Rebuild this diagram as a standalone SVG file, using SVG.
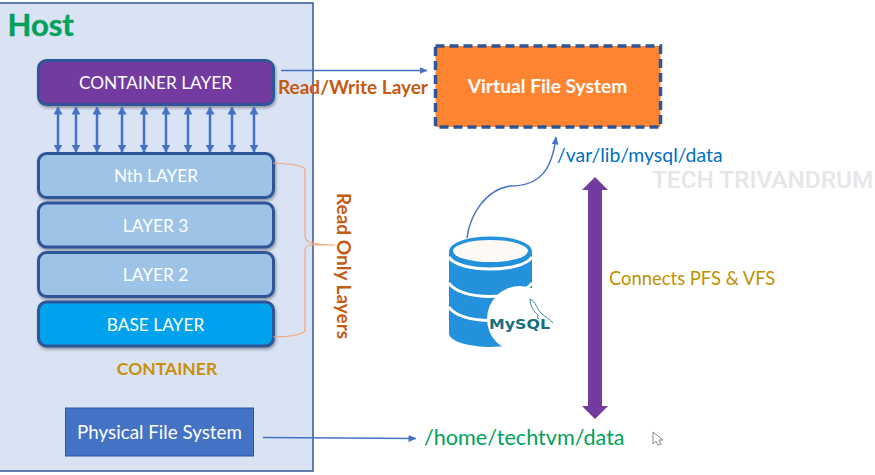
<svg xmlns="http://www.w3.org/2000/svg" width="875" height="475" viewBox="0 0 875 475">
<style>
text{font-family:Lato,"Open Sans",sans-serif}
.layer{stroke:#2f5597;stroke-width:3;filter:url(#sh)}
.lt{fill:#fff;font-size:17.300px;text-anchor:middle}
.thin{fill:none;stroke:#4472c4;stroke-width:1.500}
.dbl{stroke:#4472c4;stroke-width:2.500;marker-start:url(#ab);marker-end:url(#ae)}
.brace{fill:none;stroke:#f4a77c;stroke-width:1.200}
</style>
<defs>
<filter id="sh" x="-5%" y="-10%" width="110%" height="130%"><feDropShadow dx="1" dy="2" stdDeviation="1.500" flood-color="#000" flood-opacity=".35"/></filter>
<marker id="ae" markerWidth="8" markerHeight="9" refX="7.500" refY="4.500" orient="auto" markerUnits="userSpaceOnUse" viewBox="0 0 8 9"><path d="M0 0L8 4.500L0 9z" fill="#4472c4"/></marker>
<marker id="ab" markerWidth="8" markerHeight="9" refX=".5" refY="4.500" orient="auto" markerUnits="userSpaceOnUse" viewBox="0 0 8 9"><path d="M8 0L0 4.500L8 9z" fill="#4472c4"/></marker>
<marker id="th" markerWidth="8" markerHeight="7" refX="7.500" refY="3.500" orient="auto" markerUnits="userSpaceOnUse"><path d="M0 0L8 3.500L0 7z" fill="#4472c4"/></marker>
</defs>
<rect width="875" height="475" fill="#fff"/>
<g id="host"><rect x="-2" y="3" width="315" height="468" fill="#dae3f3" stroke="#2f5597" stroke-width="1.500"/>
<text x="7.500" y="36" font-size="31" font-weight="700" fill="#00a15a" stroke="#00a15a" stroke-width=".4">Host</text></g>
<g id="container-layer"><rect class="layer" x="38.500" y="60.500" width="235" height="44" rx="8" fill="#733a9f"/><text class="lt" x="155.500" y="89">CONTAINER LAYER</text></g>
<g id="nth-layer"><rect class="layer" x="38.500" y="153.500" width="235" height="44" rx="8" fill="#9dc3e6"/><text class="lt" x="156" y="182">Nth LAYER</text></g>
<g id="layer-3"><rect class="layer" x="38.500" y="203" width="235" height="44" rx="8" fill="#9dc3e6"/><text class="lt" x="155.500" y="231.500">LAYER 3</text></g>
<g id="layer-2"><rect class="layer" x="38.500" y="252.500" width="235" height="44" rx="8" fill="#9dc3e6"/><text class="lt" x="155.500" y="281">LAYER 2</text></g>
<g id="base-layer"><rect class="layer" x="38.500" y="302" width="235" height="44" rx="8" fill="#00a2ed"/><text class="lt" x="155.500" y="331">BASE LAYER</text></g>
<g id="container-label"><text x="167" y="375" font-size="17.500" font-weight="700" fill="#c8900a" text-anchor="middle">CONTAINER</text></g>
<g id="physical-file-system"><rect x="65.500" y="408" width="188" height="48" fill="#4472c4" stroke="#2f5597"/><text x="159.500" y="439" font-size="18.800" fill="#fff" text-anchor="middle">Physical File System</text></g>
<g id="virtual-file-system"><rect x="435.500" y="46" width="225" height="81" fill="#fe8431" stroke="#2f5597" stroke-width="3.500" stroke-dasharray="9 5"/><text x="547.500" y="93" font-size="19.200" font-weight="700" fill="#fff" text-anchor="middle">Virtual File System</text></g>
<g id="mysql">
<path d="M449 252V333C449 342 472 347 490 347C510 347 532 342 532 333V252Z" fill="#2391dc"/>
<ellipse cx="490.500" cy="251" rx="41.500" ry="14.500" fill="#2391dc"/>
<ellipse cx="490.500" cy="251" rx="37.500" ry="11" fill="#fff9f5"/>
<path d="M449 257C458 273 522 273 532 257M449 283C460 301 520 301 532 283M449 307C460 325 520 325 532 307" fill="none" stroke="#fff" stroke-width="3"/>
<circle cx="520" cy="319" r="33" fill="#fff"/>
<path d="M530 299C536 302 537 309 541 313C545 317 550 319 553 323M530 299C530 305 533 311 538 315C537 318 538 320 539 318" fill="none" stroke="#3a8a9e" stroke-width="1"/>
<text x="489" y="329" font-size="14" font-weight="700" fill="#17707f" style="font-family:'DejaVu Sans',sans-serif" textLength="61" lengthAdjust="spacingAndGlyphs">MySQL</text>
</g>
<g id="labels">
<text x="278" y="94" font-size="19" font-weight="700" fill="#c55a11">Read/Write Layer</text>
<text transform="translate(337 193) rotate(90)" font-size="19" font-weight="700" fill="#c55a11">Read Only Layers</text>
<text x="557" y="162" font-size="19.400" fill="#0070c0">/var/lib/mysql/data</text>
<text x="609" y="285" font-size="18.400" fill="#bf9000">Connects PFS &amp; VFS</text>
<text x="424" y="445" font-size="21.600" fill="#00a15a">/home/techtvm/data</text>
<text x="652" y="188" font-size="24.400" font-weight="500" fill="#e6e6e6" style="font-family:Roboto,sans-serif">TECH TRIVANDRUM</text>
</g>
<g id="connectors">
<line class="dbl" x1="58" y1="107" x2="58" y2="152"/><line class="dbl" x1="76" y1="107" x2="76" y2="152"/><line class="dbl" x1="97" y1="107" x2="97" y2="152"/><line class="dbl" x1="122" y1="107" x2="122" y2="152"/><line class="dbl" x1="144" y1="107" x2="144" y2="152"/><line class="dbl" x1="166" y1="107" x2="166" y2="152"/><line class="dbl" x1="188" y1="107" x2="188" y2="152"/><line class="dbl" x1="210" y1="107" x2="210" y2="152"/><line class="dbl" x1="232" y1="107" x2="232" y2="152"/><line class="dbl" x1="254" y1="107" x2="254" y2="152"/>
<path class="thin" d="M281 70.500H427" marker-end="url(#th)"/>
<path class="thin" d="M263 437.500L416 438.500" marker-end="url(#th)"/>
<path class="thin" d="M467 238C470 215 485 190 510 186C540 186 552 170 556 137" marker-end="url(#th)"/>
<path class="brace" d="M273 163C290 164 305 165 305 170V236C305 243 315 245 335 245H312C308 245 305 247 305 250V330C305 334 290 337 273 337"/>
<path d="M595 177L608 190H602V406H608L595 419L582 406H588V190H582Z" fill="#733a9f"/>
</g>
<g id="cursor"><path d="M653 432V444L656 441L658 445L661 444L659 440H663Z" fill="#fff" stroke="#8a8a8a"/></g>
</svg>
